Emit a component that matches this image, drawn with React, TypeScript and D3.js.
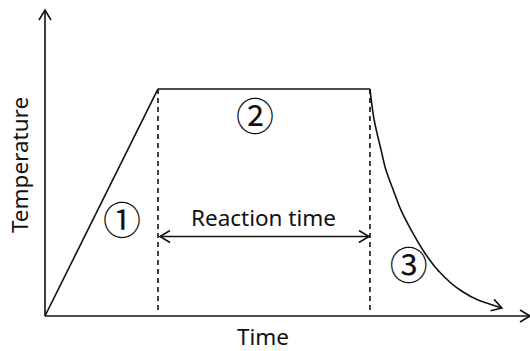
import React from "react";
import * as d3 from "d3";

// Process profile (time units, temperature units)
const rampTime = [0, 2.33];
const rampTemp = [0, 7.42];
const plateauTime = [2.33, 6.7];
const plateauTemp = [7.42, 7.42];
const coolTime = [6.7, 6.78, 6.93, 7.03, 7.18, 7.34, 7.55, 7.79, 8.1, 8.56, 8.93, 9.42];
const coolTemp = [7.42, 6.47, 5.42, 4.77, 4.12, 3.46, 2.81, 2.16, 1.5, 0.85, 0.52, 0.26];
const stageLabels = ["①", "②", "③"];
const stageLabelTime = [1.59, 4.33, 7.5];
const stageLabelTemp = [3.23, 6.63, 1.74];
const axisLabels = { x: "Time", y: "Temperature", span: "Reaction time" };

const W = 530;
const H = 351;

export default function App() {
  const x = d3.scaleLinear().domain([0, 10]).range([45, 530]);
  const y = d3.scaleLinear().domain([0, 10]).range([316, 10]);
  const line = d3.line<[number, number]>().x((d) => x(d[0])).y((d) => y(d[1]));
  const curve = d3
    .line<[number, number]>()
    .x((d) => x(d[0]))
    .y((d) => y(d[1]))
    .curve(d3.curveMonotoneY);

  const ramp: [number, number][] = rampTime.map((t, i) => [t, rampTemp[i]]);
  const plateau: [number, number][] = plateauTime.map((t, i) => [t, plateauTemp[i]]);
  const cool: [number, number][] = coolTime.map((t, i) => [t, coolTemp[i]]);

  const stroke = "#111";
  const sw = 1.6;
  const font = "'Noto Sans', 'Open Sans', sans-serif";
  const circFont = "'Noto Sans CJK JP', sans-serif";

  const spanY = 236.5;
  const x0 = x(plateauTime[0]);
  const x1 = x(plateauTime[1]);

  return (
    <svg width={W} height={H} style={{ position: "absolute", left: 0, top: 0, background: "#fff" }}>
      <defs>
        <marker id="arr" viewBox="-12 -7 14 14" markerWidth={14} markerHeight={14} refX={0} refY={0} orient="auto-start-reverse" markerUnits="userSpaceOnUse">
          <path d="M-10,-6 L0,0 L-10,6" fill="none" stroke={stroke} strokeWidth={sw} />
        </marker>
      </defs>
      {/* axes */}
      <path d={line([[0, 0], [0, 10]])!} stroke={stroke} strokeWidth={sw} fill="none" markerEnd="url(#arr)" />
      <path d={line([[0, 0], [10, 0]])!} stroke={stroke} strokeWidth={sw} fill="none" markerEnd="url(#arr)" />
      {/* dashed guides */}
      {plateauTime.map((t, i) => (
        <line key={i} x1={x(t)} x2={x(t)} y1={y(plateauTemp[i])} y2={312} stroke={stroke} strokeWidth={sw} strokeDasharray="5,4" />
      ))}
      {/* profile */}
      <path d={line(ramp)!} stroke={stroke} strokeWidth={sw} fill="none" />
      <path d={line(plateau)!} stroke={stroke} strokeWidth={sw} fill="none" />
      <path d={curve(cool)!} stroke={stroke} strokeWidth={sw} fill="none" markerEnd="url(#arr)" />
      {/* reaction time span */}
      <line x1={x0 + 2} x2={x1 - 1} y1={spanY} y2={spanY} stroke={stroke} strokeWidth={sw} markerStart="url(#arr)" markerEnd="url(#arr)" />
      <text x={263.5} y={226} textAnchor="middle" fontFamily={font} fontSize={22.5} fill={stroke}>
        {axisLabels.span}
      </text>
      {/* stage labels */}
      {stageLabels.map((s, i) => (
        <text key={s} x={x(stageLabelTime[i])} y={y(stageLabelTemp[i])} textAnchor="middle" dominantBaseline="central" fontFamily={circFont} fontSize={38} fill={stroke}>
          {s}
        </text>
      ))}
      {/* axis titles */}
      <text x={263} y={345} textAnchor="middle" fontFamily={font} fontSize={22.5} fill={stroke}>
        {axisLabels.x}
      </text>
      <text transform="translate(28,165) rotate(-90)" textAnchor="middle" fontFamily={font} fontSize={22.5} fill={stroke}>
        {axisLabels.y}
      </text>
    </svg>
  );
}
